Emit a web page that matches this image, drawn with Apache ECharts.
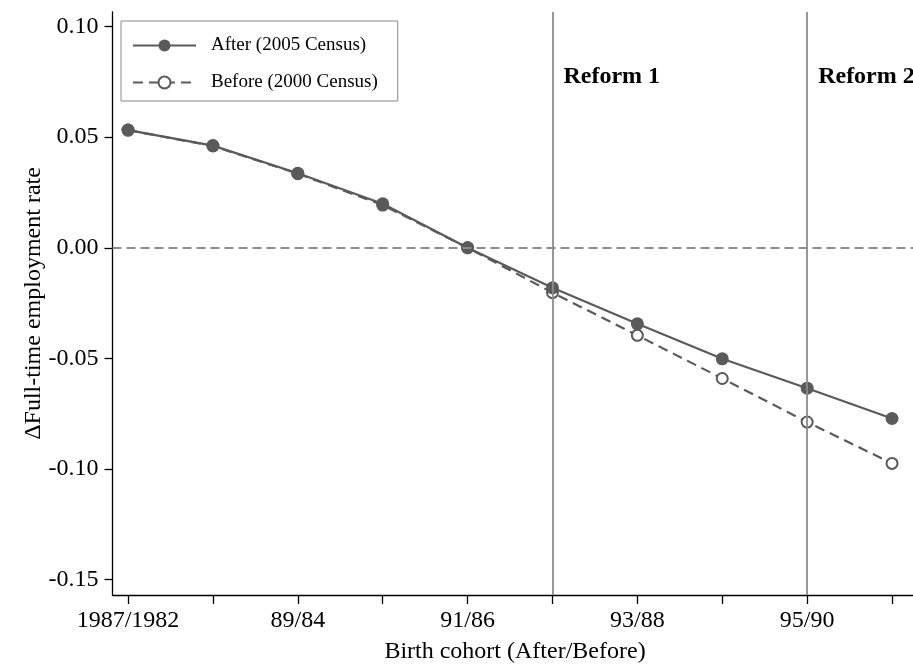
<!DOCTYPE html>
<html>
<head>
<meta charset="utf-8">
<script src="https://cdn.jsdelivr.net/npm/echarts@6/dist/echarts.min.js"></script>
<style>
  html, body { margin: 0; padding: 0; background: #fff; }
  #chart { width: 913px; height: 665px; }
</style>
</head>
<body>
<div id="chart"></div>
<script>
// Birth cohorts (After/Before), one per plotted point
const cohorts = ['1987/1982', '88/83', '89/84', '90/85', '91/86', '92/87', '93/88', '94/89', '95/90', '96/91'];
// Change in full-time employment rate relative to the 91/86 cohort
const afterValues  = [0.0532, 0.0462, 0.0337, 0.0199, 0.000, -0.0181, -0.0344, -0.0502, -0.0635, -0.0772];
const beforeValues = [0.0532, 0.0460, 0.0335, 0.0193, 0.000, -0.0203, -0.0396, -0.0591, -0.0788, -0.0975];
const yTicks = [-0.15, -0.10, -0.05, 0.00, 0.05, 0.10];
const xLabelIdx = [0, 2, 4, 6, 8];
const reforms = [
  { name: 'Reform 1', at: 5 },
  { name: 'Reform 2', at: 8 }
];

const FONT = 'Liberation Serif';
const lineGray = '#5a5a5a';
const refGray = '#8c8c8c';

const chart = echarts.init(document.getElementById('chart'), null, { renderer: 'canvas' });

const toPairs = arr => arr.map((v, i) => [i, v]);

chart.setOption({
  backgroundColor: '#fff',
  animation: false,
  textStyle: { fontFamily: FONT },
  grid: { left: 112.5, top: 12, width: 805, height: 583, containLabel: false, outerBoundsMode: 'none' },
  legend: {
    left: 121, top: 21,
    orient: 'vertical',
    padding: [15, 20, 9, 11],
    itemWidth: 63, itemHeight: 15, itemGap: 18,
    borderColor: '#8a8a8a', borderWidth: 1,
    textStyle: { fontFamily: FONT, fontSize: 19, color: '#000', padding: [0, 0, 0, 10] },
    data: ['After (2005 Census)', 'Before (2000 Census)']
  },
  xAxis: {
    type: 'value',
    min: -0.183, max: 9.3,
    name: 'Birth cohort (After/Before)',
    nameLocation: 'middle', nameGap: 45,
    nameTextStyle: { fontFamily: FONT, fontSize: 24, color: '#000' },
    axisLine: { show: true, onZero: false, lineStyle: { color: '#000', width: 1.3 } },
    axisTick: { show: true, length: 9, lineStyle: { color: '#000', width: 1.3 },
      customValues: cohorts.map((c, i) => i) },
    axisLabel: { fontFamily: FONT, fontSize: 24, color: '#000', margin: 14,
      customValues: xLabelIdx, formatter: v => cohorts[Math.round(v)] },
    splitLine: { show: false }
  },
  yAxis: {
    type: 'value',
    min: -0.157, max: 0.1066,
    name: 'ΔFull-time employment rate',
    nameLocation: 'middle', nameGap: 67, nameMoveOverlap: false,
    nameTextStyle: { fontFamily: FONT, fontSize: 24, color: '#000' },
    axisLine: { show: true, onZero: false, lineStyle: { color: '#000', width: 1.3 } },
    axisTick: { show: true, length: 8, lineStyle: { color: '#000', width: 1.3 },
      customValues: yTicks },
    axisLabel: { fontFamily: FONT, fontSize: 24, color: '#000', margin: 14,
      customValues: yTicks, formatter: v => v.toFixed(2) },
    splitLine: { show: false }
  },
  series: [
    {
      name: 'Before (2000 Census)',
      type: 'line',
      data: toPairs(beforeValues),
      symbol: 'emptyCircle', symbolSize: 11,
      itemStyle: { color: lineGray, borderColor: lineGray, borderWidth: 2 },
      lineStyle: { color: lineGray, width: 2.2, type: [10, 6] },
      z: 3
    },
    {
      name: 'After (2005 Census)',
      type: 'line',
      data: toPairs(afterValues),
      symbol: 'circle', symbolSize: 13,
      itemStyle: { color: lineGray },
      lineStyle: { color: lineGray, width: 2.2 },
      z: 4,
      markLine: {
        silent: true, symbol: 'none', animation: false,
        label: { show: false },
        data: [
          { yAxis: 0, lineStyle: { color: refGray, width: 2, type: [9, 5] } }
        ].concat(reforms.map(r => ({ xAxis: r.at, lineStyle: { color: refGray, width: 1.8, type: 'solid' } })))
      },
      markPoint: {
        silent: true, symbol: 'circle', symbolSize: 0,
        label: { show: true, position: 'right', distance: 11,
          fontFamily: FONT, fontSize: 24, fontWeight: 'bold', color: '#000',
          formatter: p => p.name },
        data: reforms.map(r => ({ name: r.name, coord: [r.at, 0.0774] }))
      }
    }
  ]
});
</script>
</body>
</html>
